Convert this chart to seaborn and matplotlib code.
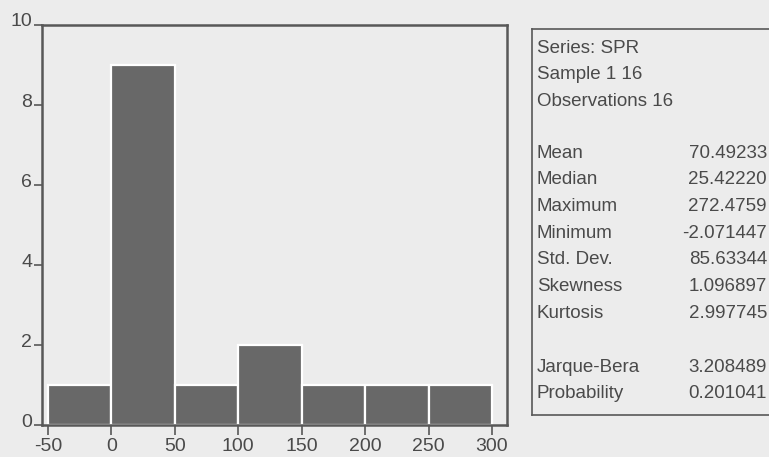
import matplotlib
matplotlib.use("Agg")
import matplotlib.pyplot as plt
import matplotlib.transforms as mtransforms
import seaborn as sns
import numpy as np

# Histogram of SPR: bin edges and counts per bin
bin_edges = [-50, 0, 50, 100, 150, 200, 250, 300]
bin_counts = [1, 9, 1, 2, 1, 1, 1]
x_ticks = [-50, 0, 50, 100, 150, 200, 250, 300]
y_ticks = [0, 2, 4, 6, 8, 10]

# Descriptive statistics panel
header_lines = ["Series: SPR", "Sample 1 16", "Observations 16"]
stat_names = ["Mean", "Median", "Maximum", "Minimum", "Std. Dev.", "Skewness", "Kurtosis"]
stat_values = ["70.49233", "25.42220", "272.4759", "-2.071447", "85.63344", "1.096897", "2.997745"]
test_names = ["Jarque-Bera", "Probability"]
test_values = ["3.208489", "0.201041"]

sns.set_style("white")
plt.rcParams["font.family"] = ["Liberation Sans", "DejaVu Sans"]

bg = "#ececec"
frame_col = "#585858"
text_col = "#4a4a4a"

fig = plt.figure(figsize=(7.69, 4.57), dpi=100, facecolor=bg)
ax = fig.add_axes([0.0546, 0.070, 0.6047, 0.8753], facecolor=bg)

centers = [(a + b) / 2 for a, b in zip(bin_edges[:-1], bin_edges[1:])]
sns.histplot(x=centers, weights=bin_counts, bins=bin_edges, ax=ax,
             color="#686868", alpha=1.0, edgecolor="white", linewidth=1.6)

ax.set_xlim(-54.7, 311.8)
ax.set_ylim(0, 10)
ax.set_xticks(x_ticks)
ax.set_yticks(y_ticks)
ax.set_xticklabels([str(v) for v in x_ticks])
ax.set_yticklabels([str(v) for v in y_ticks])
ax.set_xlabel("")
ax.set_ylabel("")
ax.tick_params(axis="both", bottom=True, left=True, direction="out", length=6, width=1.2,
               colors=frame_col, labelcolor=text_col, labelsize=14, pad=1)
ax.tick_params(axis="x", length=7, pad=2)
# y labels sit slightly above their tick marks
shift = mtransforms.ScaledTranslation(0, 5 / 100, fig.dpi_scale_trans)
for lab in ax.get_yticklabels():
    lab.set_transform(lab.get_transform() + shift)
for s in ax.spines.values():
    s.set_color(frame_col)
    s.set_linewidth(1.8)

# Statistics box
bx = fig.add_axes([0.6918, 0.0919, 0.33, 0.8446], facecolor=bg)
bx.set_xticks([])
bx.set_yticks([])
for s in bx.spines.values():
    s.set_color(frame_col)
    s.set_linewidth(1.2)
bx.set_xlim(0, 1)
bx.set_ylim(0, 1)

box_top_px = 29
box_h_px = 415 - 29
box_left_px = 532
box_w_px = 0.33 * 769

def yfrac(py):
    return 1 - (py - box_top_px) / box_h_px

def xfrac(px):
    return (px - box_left_px) / box_w_px

fs = 13.5
row = 26.7
y0 = 48
for i, t in enumerate(header_lines):
    bx.text(xfrac(537), yfrac(y0 + i * row), t, fontsize=fs, color=text_col, va="center", ha="left")
y1 = 153
for i, (n, v) in enumerate(zip(stat_names, stat_values)):
    bx.text(xfrac(537), yfrac(y1 + i * row), n, fontsize=fs, color=text_col, va="center", ha="left")
    bx.text(xfrac(767), yfrac(y1 + i * row), v, fontsize=fs, color=text_col, va="center", ha="right")
y2 = 367
for i, (n, v) in enumerate(zip(test_names, test_values)):
    bx.text(xfrac(537), yfrac(y2 + i * row), n, fontsize=fs, color=text_col, va="center", ha="left")
    bx.text(xfrac(767), yfrac(y2 + i * row), v, fontsize=fs, color=text_col, va="center", ha="right")

fig.savefig("out.png", dpi=100, facecolor=bg)
